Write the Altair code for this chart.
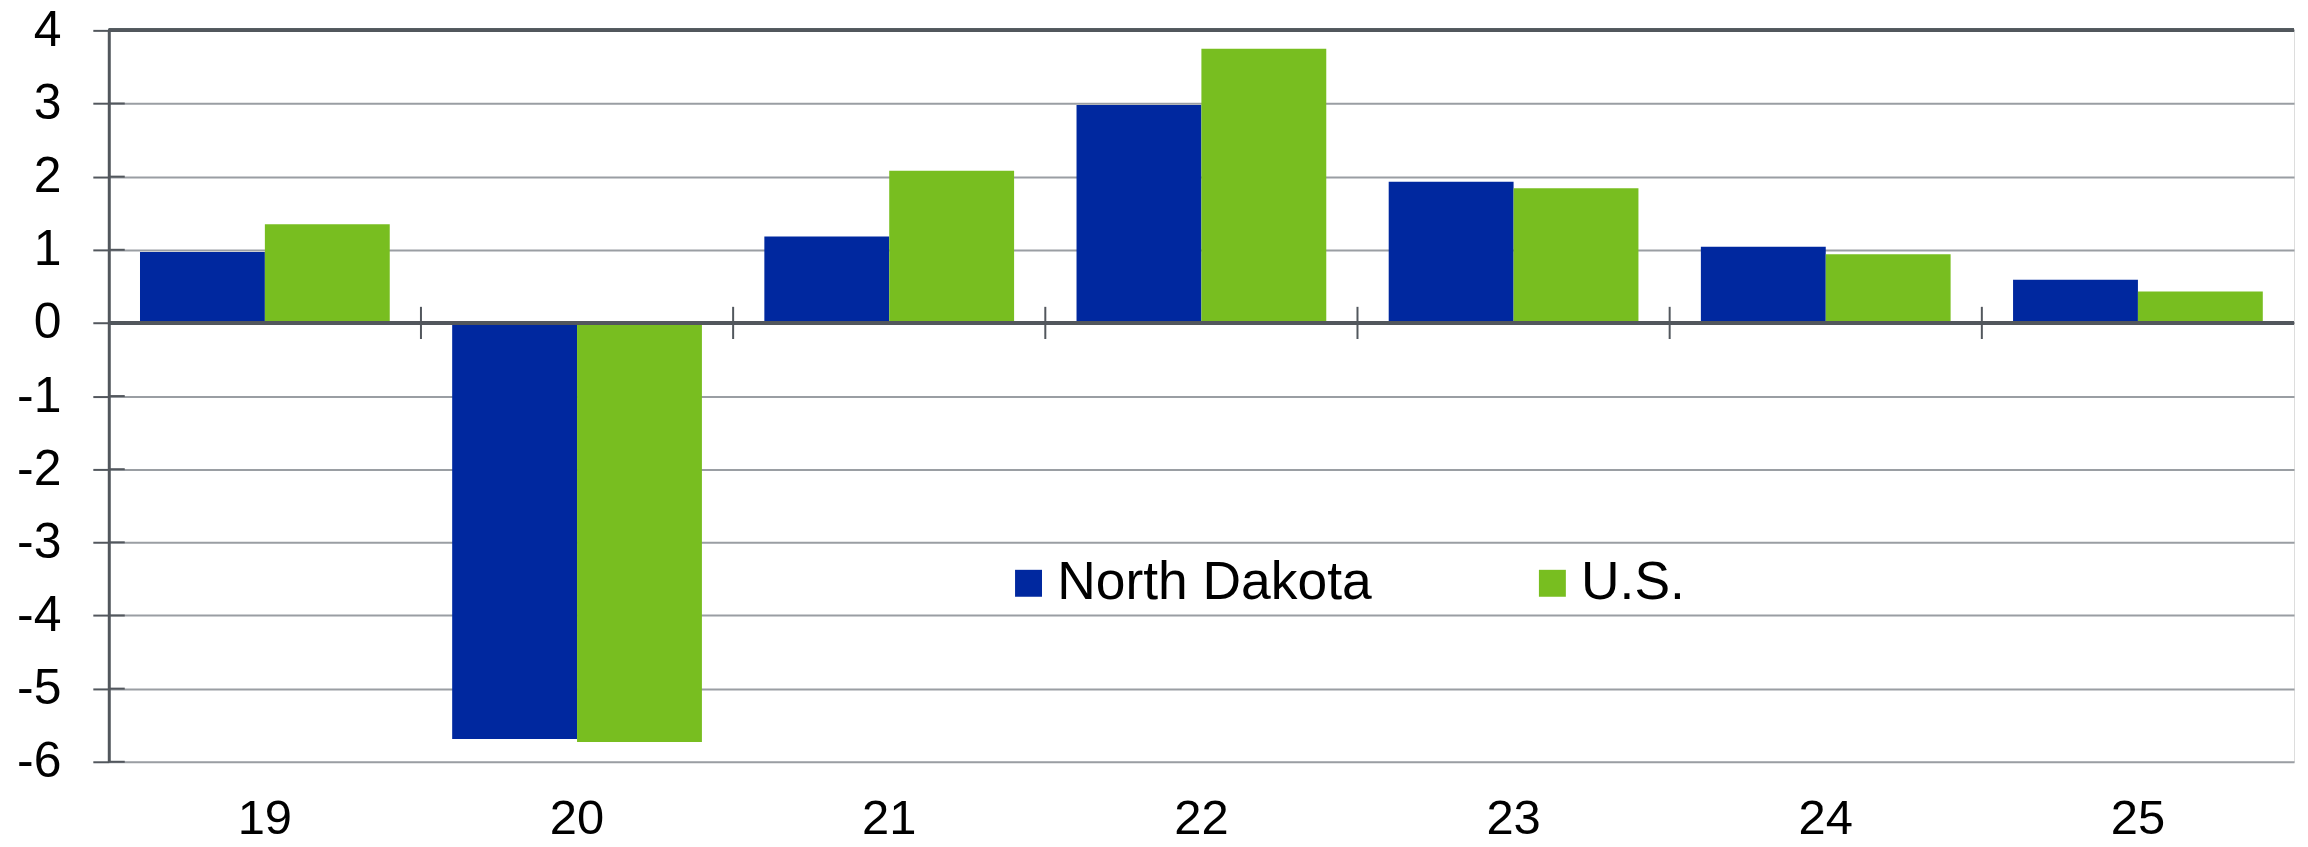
import altair as alt
import pandas as pd

years = ["19", "20", "21", "22", "23", "24", "25"]
north_dakota = [0.97, -5.69, 1.18, 2.98, 1.93, 1.04, 0.59]
us = [1.35, -5.73, 2.08, 3.75, 1.84, 0.94, 0.43]
series_names = ["North Dakota", "U.S."]
series_colors = ["#00289F", "#78BE20"]
y_ticks = [-6, -5, -4, -3, -2, -1, 0, 1, 2, 3, 4]
boundary_years = ["20", "21", "22", "23", "24", "25"]

rows = []
for i, y in enumerate(years):
    rows.append({"year": y, "series": series_names[0], "value": north_dakota[i]})
    rows.append({"year": y, "series": series_names[1], "value": us[i]})
df = pd.DataFrame(rows)
bdf = pd.DataFrame({"year": boundary_years})
tdf = pd.DataFrame({"tick": y_ticks})

FONT = "Liberation Sans, Arial, sans-serif"
DARK = "#52575D"
GRID = "#9A9EA3"

x_scale = alt.Scale(domain=years, paddingInner=0, paddingOuter=0)
y_scale = alt.Scale(domain=[-6, 4], nice=False)

bars = alt.Chart(df).mark_bar(strokeWidth=0).encode(
    x=alt.X("year:N", scale=x_scale, sort=years,
            axis=alt.Axis(title=None, labelAngle=0, ticks=False, tickSize=0, domain=False,
                          labelFontSize=49, labelFont=FONT, labelColor="#000000",
                          labelPadding=33, grid=False)),
    xOffset=alt.XOffset("series:N", sort=series_names,
                        scale=alt.Scale(domain=series_names, paddingInner=0, paddingOuter=0.25)),
    y=alt.Y("value:Q", scale=y_scale,
            axis=alt.Axis(title=None, values=y_ticks, grid=True, gridColor=GRID, gridWidth=2,
                          domain=True, domainColor=DARK, domainWidth=3,
                          ticks=True, tickSize=16, tickColor=DARK, tickWidth=2,
                          labelFontSize=50, labelFont=FONT, labelColor="#000000",
                          labelPadding=32, labelExpr="'' + datum.value")),
    color=alt.Color("series:N", sort=series_names,
                    scale=alt.Scale(domain=series_names, range=series_colors),
                    legend=alt.Legend(title=None, orient="none", direction="horizontal",
                                      legendX=895, legendY=527, padding=0,
                                      symbolType="square", symbolSize=729, symbolStrokeWidth=0,
                                      labelFontSize=53.5, labelFont=FONT, labelColor="#000000",
                                      labelLimit=0, labelOffset=2, columnPadding=154)),
)

zero = alt.Chart(tdf).mark_rule(color=DARK, strokeWidth=3).encode(
    y=alt.datum(0),
)

bticks = alt.Chart(bdf).mark_rule(color=DARK, strokeWidth=2).encode(
    x=alt.X("year:N", bandPosition=0, sort=years, scale=x_scale),
    y=alt.datum(-0.22),
    y2=alt.datum(0.22),
)

inner_ticks = alt.Chart(tdf).mark_rule(color=DARK, strokeWidth=2).encode(
    x=alt.value(0),
    x2=alt.value(16),
    y=alt.Y("tick:Q", scale=y_scale),
)

top_line = alt.Chart(tdf).mark_rule(color=DARK, strokeWidth=3).encode(
    y=alt.datum(4),
)

chart = alt.layer(bars, zero, bticks, inner_ticks, top_line).properties(
    width=2190,
    height=733,
    autosize=alt.AutoSizeParams(type="none"),
    padding={"left": 101, "top": 21.5, "right": 6, "bottom": 84},
).configure_view(
    stroke=DARK, strokeWidth=3
).configure(background="white")

chart.save("out.html", embed_options={"renderer": "svg", "actions": False})
